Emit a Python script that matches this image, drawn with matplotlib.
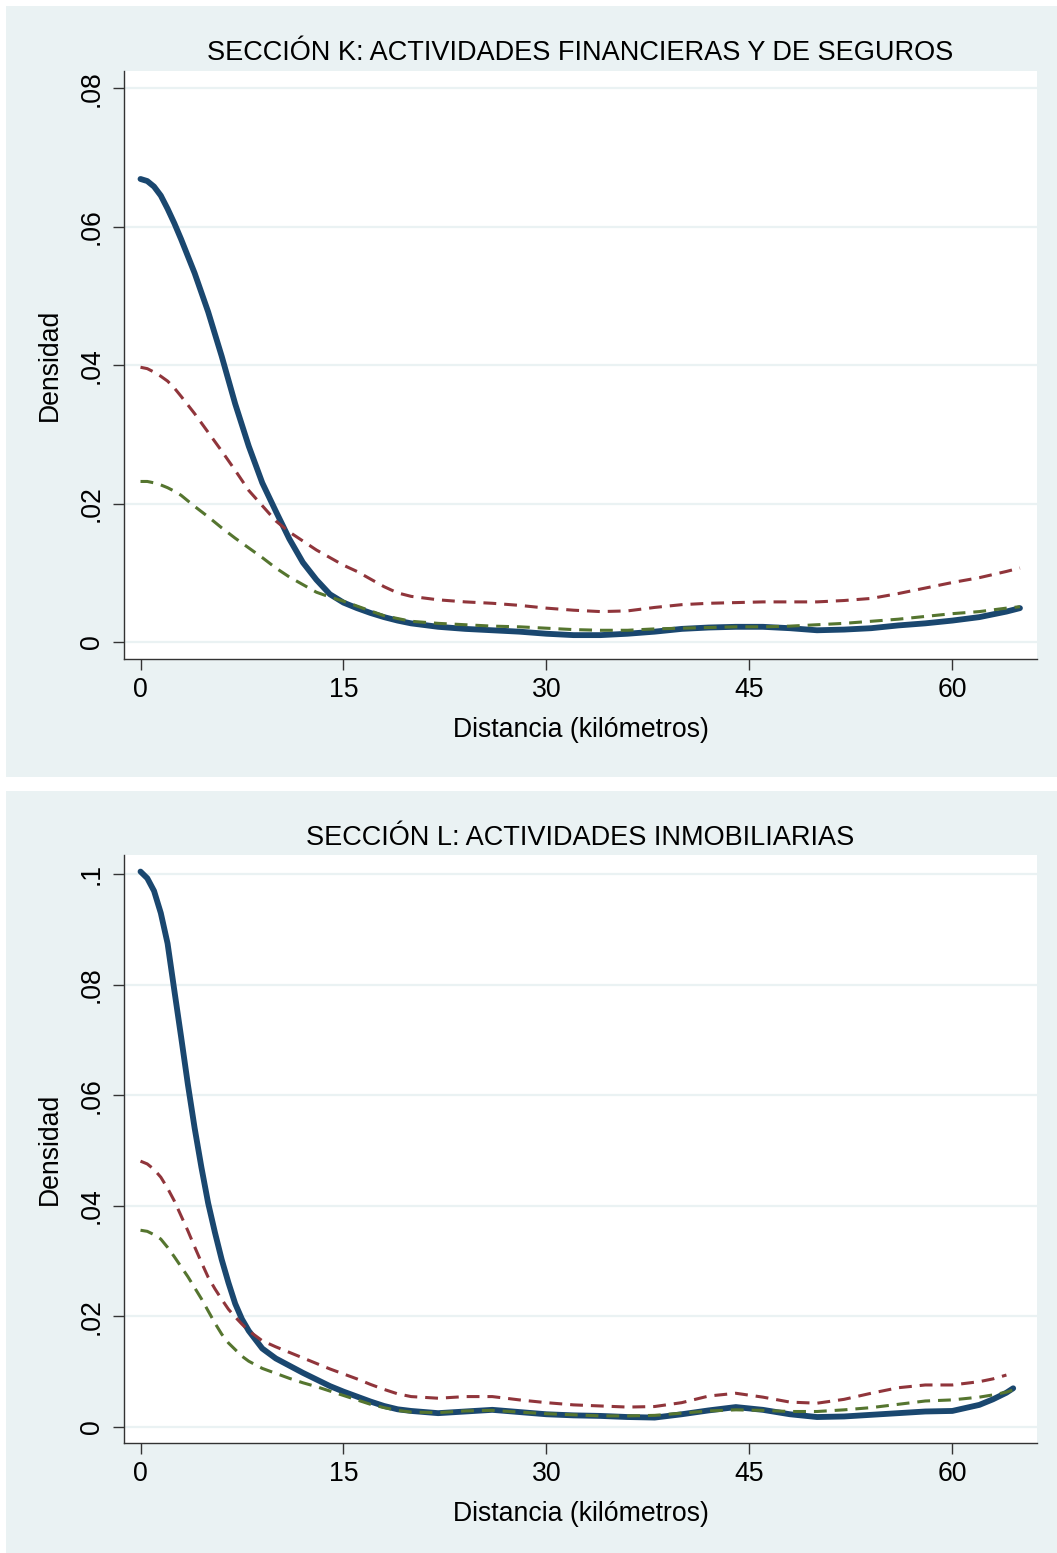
import matplotlib
matplotlib.use("Agg")
import matplotlib.pyplot as plt
from matplotlib.patches import Rectangle

plt.rcParams['font.family'] = ['Liberation Sans', 'DejaVu Sans']

# ---------------- data ----------------
titles = ["SECCIÓN K: ACTIVIDADES FINANCIERAS Y DE SEGUROS",
          "SECCIÓN L: ACTIVIDADES INMOBILIARIAS"]
x_label = "Distancia (kilómetros)"
y_label = "Densidad"
x_ticks = [0, 15, 30, 45, 60]

k_x = [0, 0.5, 1, 1.5, 2, 2.5, 3, 4, 5, 6, 7, 8, 9, 10, 11, 12, 13, 14, 15, 16,
       17, 18, 19, 20, 22, 24, 26, 28, 30, 32, 34, 36, 38, 40, 42, 44, 46, 48, 50,
       52, 54, 56, 58, 60, 62, 64, 65]
k_navy = [0.0669, 0.0666, 0.0658, 0.0645, 0.0626, 0.0605, 0.0582, 0.0533, 0.0477,
          0.0413, 0.0344, 0.0283, 0.0230, 0.0189, 0.0149, 0.0115, 0.0090, 0.0069,
          0.0057, 0.0049, 0.0042, 0.0036, 0.0031, 0.0027, 0.0022, 0.0019, 0.0017,
          0.0015, 0.0012, 0.0010, 0.0010, 0.0012, 0.0015, 0.0019, 0.0021, 0.0022,
          0.0022, 0.0020, 0.0017, 0.0018, 0.0020, 0.0024, 0.0027, 0.0031, 0.0036,
          0.0044, 0.0049]
k_red = [0.0397, 0.0395, 0.0390, 0.0384, 0.0377, 0.0367, 0.0355, 0.0330, 0.0303,
         0.0276, 0.0248, 0.0219, 0.0197, 0.0175, 0.0159, 0.0146, 0.0133, 0.0122,
         0.0111, 0.0102, 0.0091, 0.0080, 0.0071, 0.0066, 0.0061, 0.0058, 0.0056,
         0.0053, 0.0049, 0.0046, 0.0044, 0.0045, 0.0050, 0.0054, 0.0056, 0.0057,
         0.0058, 0.0058, 0.0058, 0.0060, 0.0063, 0.0070, 0.0078, 0.0086, 0.0093,
         0.0102, 0.0107]
k_green = [0.0232, 0.0232, 0.0230, 0.0227, 0.0223, 0.0218, 0.0212, 0.0196, 0.0181,
           0.0165, 0.0150, 0.0136, 0.0122, 0.0107, 0.0094, 0.0083, 0.0072, 0.0065,
           0.0059, 0.0052, 0.0045, 0.0038, 0.0034, 0.0030, 0.0027, 0.0025, 0.0023,
           0.0022, 0.0020, 0.0018, 0.0017, 0.0017, 0.0019, 0.0020, 0.0021, 0.0022,
           0.0022, 0.0023, 0.0025, 0.0027, 0.0030, 0.0033, 0.0037, 0.0041, 0.0044,
           0.0049, 0.0051]

l_x = [0, 0.5, 1, 1.5, 2, 2.5, 3, 3.5, 4, 4.5, 5, 5.5, 6, 6.5, 7, 7.5, 8, 9, 10,
       11, 12, 13, 14, 15, 16, 17, 18, 19, 20, 22, 24, 26, 28, 30, 32, 34, 36, 38,
       40, 42, 44, 46, 48, 50, 52, 54, 56, 58, 60, 62, 63, 64, 64.5]
l_navy = [0.1005, 0.0993, 0.0970, 0.0930, 0.0875, 0.0790, 0.0706, 0.0620, 0.0541,
          0.0470, 0.0405, 0.0352, 0.0303, 0.0261, 0.0223, 0.0195, 0.0174, 0.0142,
          0.0124, 0.0111, 0.0098, 0.0086, 0.0074, 0.0064, 0.0055, 0.0046, 0.0038,
          0.0032, 0.0029, 0.0025, 0.0028, 0.0031, 0.0027, 0.0023, 0.0021, 0.0020,
          0.0018, 0.0017, 0.0023, 0.0030, 0.0036, 0.0031, 0.0023, 0.0018, 0.0019,
          0.0022, 0.0025, 0.0028, 0.0029, 0.0040, 0.0050, 0.0062, 0.0070]
l_red = [0.0481, 0.0476, 0.0466, 0.0452, 0.0432, 0.0409, 0.0382, 0.0355, 0.0326,
         0.0298, 0.0271, 0.0250, 0.0231, 0.0213, 0.0199, 0.0186, 0.0174, 0.0156,
         0.0145, 0.0135, 0.0125, 0.0115, 0.0105, 0.0096, 0.0087, 0.0077, 0.0068,
         0.0060, 0.0055, 0.0052, 0.0055, 0.0055, 0.0049, 0.0044, 0.0040, 0.0038,
         0.0036, 0.0037, 0.0044, 0.0056, 0.0061, 0.0054, 0.0045, 0.0043, 0.0050,
         0.0061, 0.0071, 0.0076, 0.0076, 0.0082, 0.0087, 0.0094]
l_green = [0.0356, 0.0354, 0.0348, 0.0340, 0.0325, 0.0308, 0.0290, 0.0272, 0.0252,
           0.0232, 0.0210, 0.0188, 0.0168, 0.0152, 0.0140, 0.0128, 0.0119, 0.0106,
           0.0097, 0.0088, 0.0080, 0.0073, 0.0065, 0.0057, 0.0049, 0.0041, 0.0035,
           0.0030, 0.0027, 0.0026, 0.0029, 0.0030, 0.0027, 0.0024, 0.0022, 0.0020,
           0.0020, 0.0021, 0.0025, 0.0029, 0.0031, 0.0030, 0.0028, 0.0028, 0.0031,
           0.0035, 0.0041, 0.0047, 0.0049, 0.0054, 0.0058, 0.0063, 0.0067]

k_yticks = [0, 0.02, 0.04, 0.06, 0.08]
k_ylabels = ["0", ".02", ".04", ".06", ".08"]
l_yticks = [0, 0.02, 0.04, 0.06, 0.08, 0.1]
l_ylabels = ["0", ".02", ".04", ".06", ".08", ".1"]

# ---------------- style ----------------
W, H = 1057, 1553
BG = "#EAF2F3"
NAVY = "#1A476F"
MAROON = "#90353B"
GREEN = "#55752F"
AX = "#333333"
FS = 19.2
FS_T = 19.5

fig = plt.figure(figsize=(W / 100, H / 100), dpi=100)
fig.patch.set_facecolor("white")


def fx(px):
    return px / W


def fy(py):
    return 1 - py / H


def panel(top, bottom, ax_top, ax_bottom, title, xs, navy, red, green,
          yticks, ylabels, ylim, red_x=None):
    fig.patches.append(Rectangle((fx(6), fy(bottom)), fx(W) - fx(6),
                                 (bottom - top) / H, transform=fig.transFigure,
                                 facecolor=BG, edgecolor="none", zorder=-5))
    ax = fig.add_axes([fx(124), fy(ax_bottom), (1037 - 124) / W,
                       (ax_bottom - ax_top) / H])
    ax.set_zorder(2)
    ax.set_facecolor("white")
    for t in yticks:
        ax.axhline(t, color=BG, lw=1.6, zorder=1)
    ax.plot(xs, navy, color=NAVY, lw=4.2, solid_capstyle="round",
            solid_joinstyle="round", zorder=3)
    rx = xs if red_x is None else red_x
    ax.plot(rx, red, color=MAROON, lw=2.2, dashes=(4.2, 2.6), zorder=4)
    ax.plot(xs, green, color=GREEN, lw=2.2, dashes=(4.2, 2.6), zorder=5)
    ax.set_xlim(-1.22, 66.26)
    ax.set_ylim(*ylim)
    ax.set_xticks(x_ticks)
    ax.set_xticklabels([str(v) for v in x_ticks])
    ax.set_yticks(yticks)
    ax.set_yticklabels(ylabels, rotation=90, va="center")
    for s in ["top", "right"]:
        ax.spines[s].set_visible(False)
    for s in ["left", "bottom"]:
        ax.spines[s].set_color(AX)
        ax.spines[s].set_linewidth(1.0)
    ax.tick_params(axis="both", direction="out", length=8, width=1.0,
                   color=AX, labelsize=FS, labelcolor="black")
    ax.tick_params(axis="x", pad=5)
    ax.tick_params(axis="y", pad=6)
    cx = (124 + 1037) / 2
    fig.text(fx(cx), fy(top + 47), title, ha="center", va="center",
             fontsize=FS_T, zorder=3)
    fig.text(fx(cx), fy(ax_bottom + 71), x_label, ha="center", va="center",
             fontsize=FS, zorder=3)
    fig.text(fx(50), fy((ax_top + ax_bottom) / 2), y_label, ha="center",
             va="center", rotation=90, fontsize=FS, zorder=3)
    return ax


panel(6, 777, 71, 659, titles[0], k_x, k_navy, k_red, k_green,
      k_yticks, k_ylabels, (-0.00245, 0.0825))
panel(791, 1553, 855, 1443, titles[1], l_x, l_navy, l_red, l_green,
      l_yticks, l_ylabels, (-0.0029, 0.1035), red_x=l_x[:-1])

fig.savefig("out.png", dpi=100, facecolor="white")
